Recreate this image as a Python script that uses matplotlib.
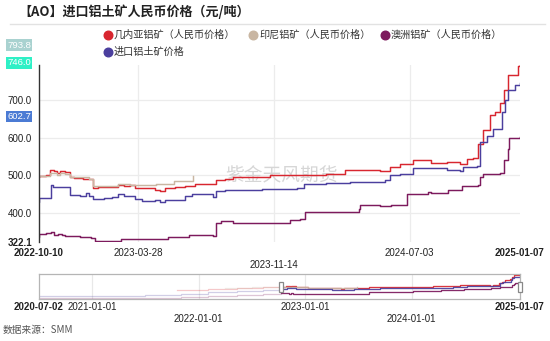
import matplotlib
matplotlib.use("Agg")
import matplotlib.pyplot as plt
import matplotlib.transforms as mtransforms
from matplotlib.patches import Rectangle
import numpy as np
import pandas as pd

# 数据: 以 2022-10-10 为基准的天数偏移
base = pd.Timestamp("2022-10-10")
end = pd.Timestamp("2025-01-07")
nav_start = pd.Timestamp("2020-07-02")

guinea_day = [-357, -250, -150, -60, 0, 12, 18, 25, 30, 36, 45, 52, 60, 75, 85, 92, 100, 115, 125, 135,
              145, 155, 163, 180, 198, 206, 215, 232, 249, 266, 277, 297, 301, 317, 331, 368, 394, 451,
              490, 522, 564, 581, 598, 615, 638, 664, 669, 695, 718, 729, 740, 749, 757, 769, 777, 786,
              793, 800, 816, 820]
guinea_val = [420, 450, 475, 495, 498, 500, 513, 512, 505, 510, 509, 494, 492, 490, 489, 467, 468, 470, 468, 474,
              472, 475, 465, 465, 462, 457, 466, 468, 471, 478, 476, 476, 487, 491, 495, 496, 500, 500,
              503, 513, 514, 512, 522, 531, 540, 540, 533, 535, 529, 544, 546, 584, 620, 660, 669, 693,
              727, 767, 791, 793.8]

indo_day = [-192, -101, -40, 0, 12, 18, 25, 30, 36, 45, 52, 85, 92, 120, 135, 145, 155, 163, 200, 230, 262]
indo_val = [470, 490, 497, 498, 498, 507, 505, 500, 505, 503, 494, 489, 472, 472, 476, 478, 474, 474, 477, 484, 498]

aus_day = [-830, -647, -466, -343, -250, -150, -60, 0, 12, 20, 26, 33, 40, 45, 70, 88, 95, 120, 140, 170,
           203, 220, 255, 272, 297, 301, 310, 330, 394, 428, 445, 453, 500, 546, 548, 581, 600, 624,
           627, 664, 669, 695, 698, 715, 721, 749, 752, 757, 786, 792, 800, 802, 820]
aus_val = [240, 240, 245, 255, 280, 310, 335, 344, 345, 348, 340, 344, 342, 337, 336, 334, 325, 326, 331, 330,
           331, 336, 341, 342, 339, 373, 377, 373, 373, 382, 384, 402, 402, 409, 420, 418, 421, 421,
           451, 455, 452, 452, 460, 460, 471, 473, 494, 504, 506, 540, 571, 598, 602.7]

imp_day = [-830, -647, -466, -343, -250, -150, -60, 0, 12, 21, 24, 28, 45, 52, 70, 80, 85, 92, 110, 125,
           135, 145, 163, 175, 198, 206, 215, 249, 260, 297, 301, 317, 340, 380, 439, 451, 490, 530,
           559, 590, 598, 615, 638, 664, 695, 718, 723, 746, 752, 763, 774, 789, 794, 800, 812, 820]
imp_val = [280, 290, 305, 330, 370, 400, 430, 440, 440, 473, 468, 470, 470, 447, 445, 452, 446, 438, 440, 442,
           449, 445, 438, 431, 433, 430, 434, 445, 449, 443, 458, 460, 461, 463, 467, 478, 480, 483,
           483, 487, 500, 504, 518, 518, 515, 511, 522, 525, 589, 604, 622, 669, 700, 727, 740, 746]

series = [
    ("几内亚铝矿（人民币价格）", guinea_day, guinea_val, "#d8262f"),
    ("印尼铝矿（人民币价格）", indo_day, indo_val, "#c9b6a2"),
    ("澳洲铝矿（人民币价格）", aus_day, aus_val, "#7d1a5d"),
    ("进口铝土矿价格", imp_day, imp_val, "#4b3f9e"),
]

y_ticks = [322.1, 400, 500, 600, 700, 793.8]
x_ticks = ["2022-10-10", "2023-03-28", "2023-11-14", "2024-07-03", "2025-01-07"]
nav_ticks = ["2020-07-02", "2021-01-01", "2022-01-01", "2023-01-01", "2024-01-01", "2025-01-07"]
last_labels = [("793.8", 793.8, "#a9d2d0"), ("746.0", 746.0, "#2ef0c6"), ("602.7", 602.7, "#4b7bd4")]

plt.rcParams['font.family'] = ['Noto Sans CJK SC', 'DejaVu Sans']
W, H = 550, 341
fig = plt.figure(figsize=(5.5, 3.41), dpi=100)


def fx(px):
    return px / W


def fy(py):
    return 1 - py / H


def to_dates(days):
    return base + pd.to_timedelta(days, unit="D")


# 标题
fig.text(fx(18), fy(12), "【AO】进口铝土矿人民币价格（元/吨）", fontsize=9.4, fontweight="bold",
         va="center", ha="left", color="#222222")
fig.add_artist(plt.Line2D([fx(10), fx(545)], [fy(24), fy(24)], color="#e2e2e2", lw=1))

# 图例
leg_pos = [(108, 35), (253, 35), (385, 35), (108, 52)]
for (name, d, v, c), (lx, ly) in zip(series, leg_pos):
    fig.add_artist(plt.Line2D([fx(lx)], [fy(ly)], marker="o", markersize=6.2, color=c, lw=0))
    fig.text(fx(lx + 6), fy(ly), name, fontsize=7.3, va="center", ha="left", color="#333333")

# 主图
ax = fig.add_axes([fx(39), fy(242), fx(481), (242 - 65) / H])
for name, d, v, c in series:
    ax.plot(to_dates(d), v, color=c, lw=1.05, drawstyle="steps-post")
ax.set_xlim(base, end)
ax.set_ylim(322.1, 793.8)

ax.set_yticks(y_ticks)
ax.set_yticklabels([f"{t:.1f}" for t in y_ticks], fontsize=7, family="Liberation Sans")
ylbls = ax.get_yticklabels()
ylbls[0].set_fontweight("bold")
ylbls[-1].set_fontweight("bold")
# 最低刻度标签略向上移, 避免与日期重叠
ylbls[0].set_transform(ylbls[0].get_transform()
                       + mtransforms.ScaledTranslation(0, 3 / 72, fig.dpi_scale_trans))
ax.tick_params(axis="y", length=0, pad=5, colors="#222222")
for t in y_ticks[1:-1]:
    ax.axhline(t, color="#ececec", lw=0.9, zorder=0)

xt = pd.to_datetime(x_ticks)
ax.set_xticks(xt)
xlabels = list(x_ticks)
xlabels[2] = "\n" + xlabels[2]
ax.set_xticklabels(xlabels, fontsize=7, family="Liberation Sans", linespacing=1.25)
for i in (0, 4):
    ax.get_xticklabels()[i].set_fontweight("bold")
ax.tick_params(axis="x", length=0, pad=4, colors="#222222")
for t in xt[1:-1]:
    ax.axvline(t, color="#ececec", lw=0.9, zorder=0)

for s in ("top", "right", "bottom"):
    ax.spines[s].set_visible(False)
ax.spines["left"].set_color("#333333")
ax.spines["left"].set_linewidth(1.0)

# 水印
ax.text(0.503, 0.375, "紫金天风期货", transform=ax.transAxes, fontsize=13.5, color="#d6d6d6",
        ha="center", va="center", zorder=0)

# 最新值标签
for txt, val, bg in last_labels:
    ypix = 242 - (val - 322.1) / (793.8 - 322.1) * 177 - 20
    fig.text(fx(31), fy(ypix), txt, fontsize=6.8, family="Liberation Sans", color="white",
             ha="right", va="center", zorder=10,
             bbox=dict(boxstyle="square,pad=0.12", fc=bg, ec="none"))

# 缩略轴
nav = fig.add_axes([fx(39), fy(299), fx(481), 25 / H])
for name, d, v, c in series:
    dd = to_dates(d)
    nav.plot(dd, v, color=c, lw=0.9, alpha=0.25, drawstyle="steps-post")
    vv = np.array(v)
    m = np.array(d) >= 0
    nav.plot(dd[m], vv[m], color=c, lw=0.9, alpha=0.9, drawstyle="steps-post")
nav.set_xlim(nav_start, end)
nav.set_ylim(215, 800)
nav.set_yticks([])
nt = pd.to_datetime(nav_ticks)
nav.set_xticks(nt)
nlabels = list(nav_ticks)
nlabels[2] = "\n" + nlabels[2]
nlabels[4] = "\n" + nlabels[4]
nav.set_xticklabels(nlabels, fontsize=7, family="Liberation Sans", linespacing=1.25)
for i in (0, 5):
    nav.get_xticklabels()[i].set_fontweight("bold")
nav.tick_params(axis="x", length=0, pad=2, colors="#222222")
for t in nt[1:-1]:
    nav.axvline(t, color="#e8e8e8", lw=0.9, zorder=0)
for s in nav.spines.values():
    s.set_color("#b5b5b5")
    s.set_linewidth(0.9)

# 选择框手柄
for hx in (281, 520):
    fig.add_artist(Rectangle((fx(hx - 2), fy(292)), fx(4), 10 / H, fc="white", ec="#888888",
                             lw=0.9, zorder=10))

# 数据来源
fig.text(fx(3), fy(330), "数据来源：SMM", fontsize=7, color="#555555", va="center", ha="left")

fig.savefig("out.png", dpi=100)
